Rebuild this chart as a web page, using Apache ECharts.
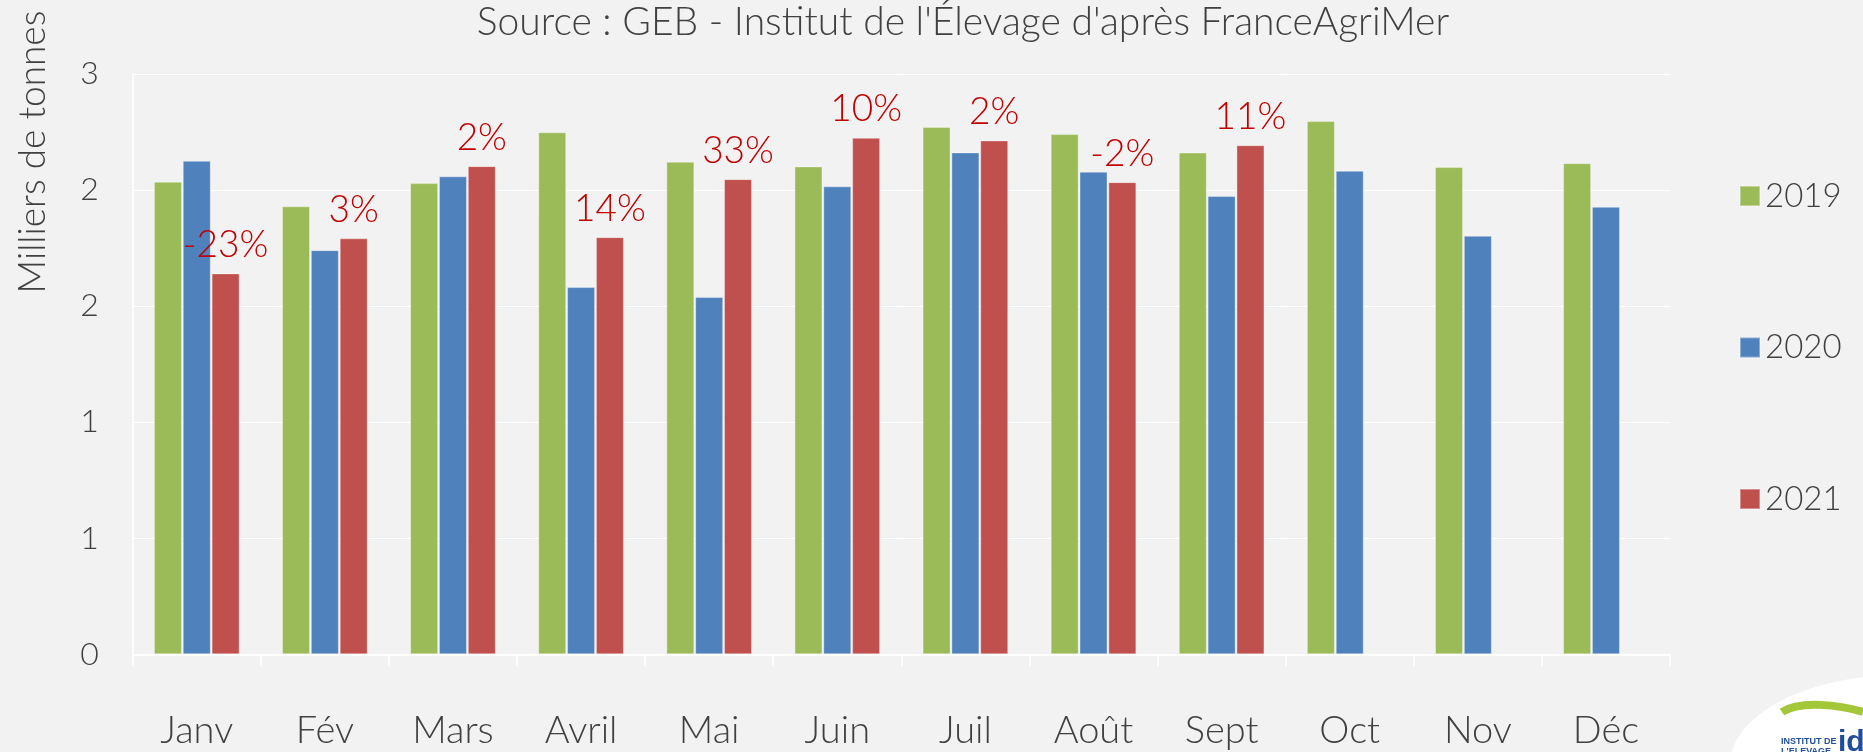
<!DOCTYPE html>
<html><head><meta charset="utf-8">
<script src="https://cdn.jsdelivr.net/npm/echarts@6/dist/echarts.min.js"></script>
<style>html,body{margin:0;padding:0;background:#f2f2f2}#c{width:1863px;height:752px}</style>
</head><body><div id="c"></div>
<script>
const categories = ['Janv','Fév','Mars','Avril','Mai','Juin','Juil','Août','Sept','Oct','Nov','Déc'];
const seriesNames = ['2019','2020','2021'];
const values2019 = [2.036,1.930,2.030,2.249,2.122,2.102,2.272,2.241,2.162,2.297,2.099,2.116];
const values2020 = [2.126,1.741,2.059,1.582,1.539,2.016,2.162,2.079,1.974,2.083,1.803,1.928];
const values2021 = [1.641,1.792,2.103,1.797,2.047,2.225,2.214,2.034,2.193,null,null,null];
const changeLabels = ['-23%','3%','2%','14%','33%','10%','2%','-2%','11%','','',''];
const yTickLabels = ['0','1','1','2','2','3'];
const titleText = "Source : GEB - Institut de l'Élevage d'après FranceAgriMer";
const yAxisName = 'Milliers de tonnes';

const FONT = 'Lato';
const TXT = '#404040';
const colors = ['#9bbb59','#4f81bd','#c0504d'];

const chart = echarts.init(document.getElementById('c'), null, {renderer:'canvas'});
const barCommon = {
  type:'bar', barWidth:28, barGap:'3%',
  itemStyle:{borderColor:'rgba(255,255,255,0.35)', borderWidth:1},
  emphasis:{disabled:true}
};
chart.setOption({
  backgroundColor:'#f2f2f2',
  animation:false,
  color: colors,
  textStyle:{fontFamily:FONT},
  title:{
    text:titleText, left:963, top:3, textAlign:'center', padding:0,
    textStyle:{fontFamily:FONT, fontSize:39, fontWeight:300, color:TXT}
  },
  legend:{
    orient:'vertical', left:1739, top:176, padding:0, itemWidth:20, itemHeight:20, itemGap:111.5,
    icon:'rect', data:seriesNames,
    textStyle:{fontFamily:FONT, fontSize:33, fontWeight:300, color:TXT, lineHeight:40}
  },
  grid:{left:132.7, right:193, top:74, bottom:97.7, containLabel:false},
  xAxis:{
    type:'category', data:categories,
    axisLine:{lineStyle:{color:'#ffffff', width:2}},
    axisTick:{show:true, length:12, lineStyle:{color:'#ffffff', width:1.5}},
    axisLabel:{fontFamily:FONT, fontSize:38, fontWeight:300, color:TXT, margin:57}
  },
  yAxis:{
    type:'value', min:0, max:2.5, interval:0.5,
    axisLine:{show:true, lineStyle:{color:'#ffffff', width:1.5}},
    axisTick:{show:false},
    splitLine:{lineStyle:{color:'#ffffff', width:1}},
    axisLabel:{fontFamily:FONT, fontSize:32, fontWeight:300, color:TXT, margin:34,
      formatter:(v)=>yTickLabels[Math.round(v/0.5)]}
  },
  graphic:[
    {type:'text', x:33, y:152, rotation:Math.PI/2,
     style:{text:yAxisName, fontFamily:FONT, fontSize:37, fontWeight:300, fill:TXT, align:'center', verticalAlign:'middle'}},
    {type:'ellipse', shape:{cx:1900, cy:765, rx:170, ry:90}, style:{fill:'#ffffff'}, silent:true},
    {type:'bezierCurve', shape:{x1:1782, y1:712, x2:1863, y2:712, cpx1:1800, cpy1:700, cpx2:1840, cpy2:705},
     style:{stroke:'#a4c639', lineWidth:8, fill:null}, silent:true},
    {type:'text', x:1781, y:742, style:{text:'INSTITUT DE', fontFamily:'Liberation Sans', fontWeight:'bold', fontSize:9, fill:'#1f4e9c', verticalAlign:'middle'}},
    {type:'text', x:1781, y:752, style:{text:"L'ELEVAGE", fontFamily:'Liberation Sans', fontWeight:'bold', fontSize:9, fill:'#1f4e9c', verticalAlign:'middle'}},
    {type:'text', x:1838, y:758, style:{text:'idele', fontFamily:'Liberation Sans', fontWeight:'bold', fontSize:30, fill:'#1f4e9c', verticalAlign:'bottom'}}
  ],
  series:[
    Object.assign({}, barCommon, {name:seriesNames[0], data:values2019}),
    Object.assign({}, barCommon, {name:seriesNames[1], data:values2020}),
    Object.assign({}, barCommon, {name:seriesNames[2], data:values2021,
      label:{show:true, position:'top', distance:10, fontFamily:FONT, fontSize:37, fontWeight:300, color:'#c00000',
        formatter:(p)=>changeLabels[p.dataIndex]}})
  ]
});
</script></body></html>
